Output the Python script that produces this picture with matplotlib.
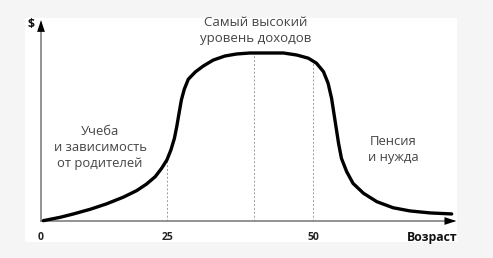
import numpy as np
import matplotlib
matplotlib.use('Agg')
import matplotlib.pyplot as plt
from matplotlib.patches import Rectangle

# curve (x in chart units, y = income, plateau = 100)
curve_x = [0.4, 3.3, 5.6, 8.5, 11.3, 14.2, 16.5, 18.2, 19.7, 20.8, 21.7, 22.4,
           23.0, 23.4, 23.8, 24.2, 24.7, 25.4, 26.6, 28.0, 29.7, 31.7, 33.7,
           36.0, 41.8, 44.1, 46.1, 47.5, 48.7, 49.5, 50.1, 50.5, 50.9, 51.3,
           51.8, 52.7, 53.8, 55.6, 57.9, 60.7, 63.6, 67.1, 70.8]
curve_y = [0.2, 2.2, 4.2, 7.0, 10.2, 14.2, 18.1, 22.0, 26.4, 31.4, 36.3, 42.3,
           49.2, 56.1, 64.1, 72.0, 78.4, 84.4, 88.7, 92.3, 95.8, 98.2, 99.4,
           100.0, 100.0, 98.8, 96.9, 93.9, 88.9, 82.0, 73.0, 64.1, 55.2, 46.3,
           37.3, 29.4, 22.4, 16.5, 11.5, 7.9, 6.0, 4.8, 4.2]

tick_pos = [0, 21.8, 46.95]
tick_labels = ['0', '25', '50']
guide_pos = [21.8, 36.8, 46.95]

label_top = 'Самый высокий\nуровень доходов'
label_left = 'Учеба\nи зависимость\nот родителей'
label_right = 'Пенсия\nи нужда'

plt.rcParams['font.family'] = ['Open Sans', 'DejaVu Sans']

W, H = 493, 258
fig = plt.figure(figsize=(W / 100, H / 100), dpi=100, facecolor='#f5f5f5')
ax = fig.add_axes([0, 0, 1, 1])
ax.patch.set_visible(False)
ax.set_axis_off()
ax.add_patch(Rectangle((25 / W, 1 - 242 / H), 432 / W, 224 / H,
                       transform=fig.transFigure, facecolor='white',
                       edgecolor='none', zorder=0))

# pixel mapping: x px = 41 + 5.8*x, y px = 221 - 1.68*y
ax.set_xlim(-41 / 5.8, (W - 41) / 5.8)
ax.set_ylim((221 - H) / 1.68, 221 / 1.68)

# axes with arrows
ax.plot([0, 71.2], [0, 0], color='#8a8a8a', lw=1.3, zorder=2)
ax.plot([0, 0], [0, 118], color='#8a8a8a', lw=1.3, zorder=2)
ax.annotate('', xy=(71.6, 0), xytext=(69.4, 0),
            arrowprops=dict(arrowstyle='-|>,head_length=0.85,head_width=0.28',
                            color='black', lw=0, shrinkA=0, shrinkB=0))
ax.annotate('', xy=(0, 119.6), xytext=(0, 112.5),
            arrowprops=dict(arrowstyle='-|>,head_length=0.85,head_width=0.28',
                            color='black', lw=0, shrinkA=0, shrinkB=0))

# dotted guides
for gx in guide_pos:
    top = np.interp(gx, curve_x, curve_y)
    ax.plot([gx, gx], [0, top], color='#9a9a9a', lw=0.7, ls=(0, (2, 2)), zorder=1)

ax.plot(curve_x, curve_y, color='black', lw=2.4, solid_joinstyle='round',
        solid_capstyle='round', zorder=3, antialiased=True)

for p, t in zip(tick_pos, tick_labels):
    ax.text(p, -9.8, t, ha='center', va='center', fontsize=7.5,
            fontweight='bold', color='#222222')
ax.text(71.8, -9.8, 'Возраст', ha='right', va='center', fontsize=8.8,
        fontweight='bold', color='#111111')
ax.text(-1.1, 117, '$', ha='right', va='center', fontsize=8.8,
        fontweight='bold', color='#111111')

ax.text(37.0, 113.5, label_top, ha='center', va='center', fontsize=9.5,
        color='#444444', linespacing=1.3)
ax.text(10.2, 43.5, label_left, ha='center', va='center', fontsize=9.4,
        color='#444444', linespacing=1.3)
ax.text(60.7, 42.5, label_right, ha='center', va='center', fontsize=9.4,
        color='#444444', linespacing=1.3)

fig.savefig('out.png', dpi=100, facecolor=fig.get_facecolor())
